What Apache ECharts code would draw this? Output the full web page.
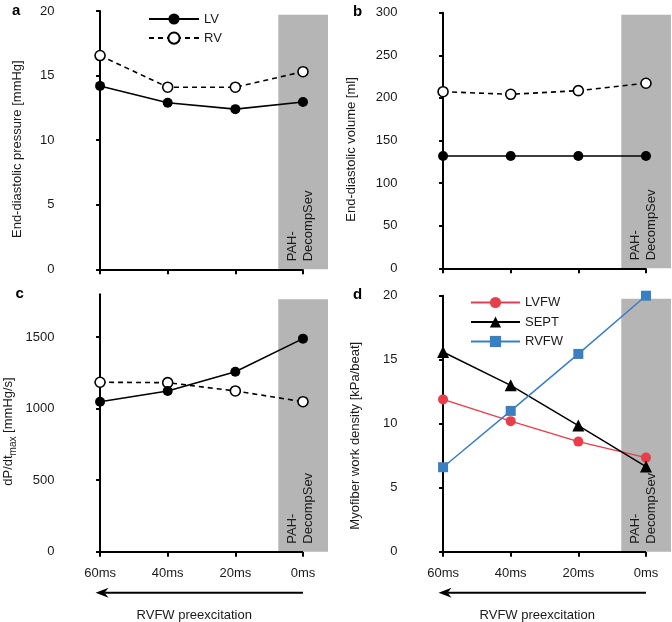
<!DOCTYPE html>
<html>
<head>
<meta charset="utf-8">
<script src="https://cdn.jsdelivr.net/npm/echarts@6/dist/echarts.min.js"></script>
<style>html,body{margin:0;padding:0;background:#fff}#c{width:672px;height:622px}</style>
</head>
<body>
<div id="c"></div>
<script>
// ---- data ----
const categories = ['60ms', '40ms', '20ms', '0ms'];
const catPos = [0, 1, 2, 3];
const edpLV = [14.2, 12.9, 12.4, 12.95];
const edpRV = [16.55, 14.1, 14.1, 15.3];
const edvLV = [131.8, 131.8, 131.8, 131.8];
const edvRV = [207.3, 204.2, 208.5, 217.2];
const dpdtLV = [1049, 1124, 1259, 1490];
const dpdtRV = [1185, 1182, 1124, 1049];
const workLVFW = [11.9, 10.2, 8.6, 7.35];
const workSEPT = [15.6, 13.0, 9.85, 6.65];
const workRVFW = [6.6, 11.0, 15.45, 20.0];
const bandStart = 2.635;
const bandTops = [19.7, 297.5, 1765, 19.77];
const bandLabel = 'PAH-\nDecompSev';
const xAxisTitle = 'RVFW preexcitation';

const FONT = 'Liberation Sans, Arial, Helvetica, sans-serif';
const TXT = '#1a1a1a';
const RED = '#e63e4b';
const BLUE = '#3a7fc2';
const XMIN = -0.585, XMAX = 3.37;

const chart = echarts.init(document.getElementById('c'), null, {renderer: 'canvas'});

const grids = [
  {left: 60.5, top: 11, width: 267.5, height: 258.3},
  {left: 403.5, top: 12.7, width: 267.5, height: 255.6},
  {left: 60.5, top: 294.3, width: 267.5, height: 257.4},
  {left: 403.5, top: 295.7, width: 267.5, height: 256}
].map(g => Object.assign({outerBoundsMode: 'none', containLabel: false}, g));

function pairs(vals) { return vals.map((v, i) => [catPos[i], v]); }

function xAxisFor(i, bottom) {
  return {
    type: 'value', gridIndex: i, min: XMIN, max: XMAX,
    axisLine: {show: false},
    splitLine: {show: false},
    axisTick: {show: true, customValues: catPos, length: 5, lineStyle: {color: '#000', width: 2}},
    axisLabel: {show: bottom, customValues: catPos, formatter: v => categories[Math.round(v)] || '',
      margin: 15, fontSize: 13, color: TXT, fontFamily: FONT},
    name: bottom ? xAxisTitle : '',
    nameLocation: 'middle', nameGap: 57,
    nameTextStyle: {fontSize: 13, color: TXT, fontFamily: FONT}
  };
}

function yAxisFor(i, o) {
  const ax = {
    type: 'value', gridIndex: i, min: o.min, max: o.max,
    axisLine: {show: true, lineStyle: {color: '#000', width: 2}},
    axisTick: {show: true, length: 4, lineStyle: {color: '#000', width: 2}},
    axisLabel: {margin: 6, fontSize: 13, color: TXT, fontFamily: FONT, formatter: v => String(v)},
    splitLine: {show: false},
    name: o.name, nameLocation: 'middle', nameGap: o.gap,
    nameTextStyle: Object.assign({fontSize: 13, color: TXT, fontFamily: FONT, padding: [0, o.shift, 0, 0]}, o.nts || {})
  };
  if (o.interval) ax.interval = o.interval;
  if (o.ticks) { ax.axisTick.customValues = o.ticks; ax.axisLabel.customValues = o.ticks; }
  return ax;
}

function band(i) {
  return {
    silent: true,
    itemStyle: {color: '#b5b5b5'},
    label: {show: true, position: 'insideBottom', distance: 8, rotate: 90, align: 'left', verticalAlign: 'middle',
      formatter: bandLabel, fontSize: 13, lineHeight: 16, color: TXT, fontFamily: FONT, offset: [0, -3]},
    data: [[{xAxis: bandStart, yAxis: 0}, {xAxis: XMAX, yAxis: bandTops[i]}]]
  };
}
function baseLine() {
  return {
    silent: true, symbol: ['none', 'none'], label: {show: false},
    lineStyle: {color: '#000', width: 2, type: 'solid'},
    emphasis: {disabled: true},
    data: [[{coord: [0, 0]}, {coord: [3, 0]}]]
  };
}

function lvSeries(i, vals) {
  return {name: 'LV', type: 'line', xAxisIndex: i, yAxisIndex: i, data: pairs(vals),
    symbol: 'circle', symbolSize: 10, z: 4,
    itemStyle: {color: '#000'}, lineStyle: {color: '#000', width: 1.6},
    markArea: band(i), markLine: baseLine()};
}
function rvSeries(i, vals) {
  return {name: 'RV', type: 'line', xAxisIndex: i, yAxisIndex: i, data: pairs(vals),
    symbol: 'circle', symbolSize: 10, z: 3,
    itemStyle: {color: '#fff', borderColor: '#000', borderWidth: 1.6},
    lineStyle: {color: '#000', width: 1.6, type: [5, 4]}};
}

const option = {
  animation: false,
  textStyle: {fontFamily: FONT},
  grid: grids,
  title: [
    {text: 'a', left: 12, top: 3},
    {text: 'b', left: 353, top: 4},
    {text: 'c', left: 15.5, top: 286},
    {text: 'd', left: 353, top: 287}
  ].map(t => Object.assign({padding: 0, textStyle: {fontSize: 15, fontWeight: 'bold', color: '#000', fontFamily: FONT}}, t)),
  legend: [
    {data: ['LV', 'RV'], orient: 'vertical', left: 143, top: 7.5, itemWidth: 50, itemHeight: 14, itemGap: 6,
      selectedMode: false, textStyle: {fontSize: 13, color: TXT, fontFamily: FONT}},
    {data: ['LVFW', 'SEPT', 'RVFW'], orient: 'vertical', left: 465, top: 291, itemWidth: 49, itemHeight: 14, itemGap: 6.5,
      selectedMode: false, textStyle: {fontSize: 13, color: TXT, fontFamily: FONT}}
  ],
  xAxis: [xAxisFor(0, false), xAxisFor(1, false), xAxisFor(2, true), xAxisFor(3, true)],
  yAxis: [
    yAxisFor(0, {min: 0, max: 20, interval: 5, name: 'End-diastolic pressure [mmHg]', gap: 37, shift: 18}),
    yAxisFor(1, {min: 0, max: 300, interval: 50, name: 'End-diastolic volume [ml]', gap: 46, shift: 18}),
    yAxisFor(2, {min: 0, max: 1800, ticks: [0, 500, 1000, 1500], name: 'dP/dt{sub|max} [mmHg/s]', gap: 42, shift: 17,
      nts: {lineHeight: 20, rich: {sub: {fontSize: 10, lineHeight: 10, verticalAlign: 'bottom', color: TXT, fontFamily: FONT}}}}),
    yAxisFor(3, {min: 0, max: 20, interval: 5, name: 'Myofiber work density [kPa/beat]', gap: 42, shift: 24})
  ],
  series: [
    lvSeries(0, edpLV), rvSeries(0, edpRV),
    lvSeries(1, edvLV), rvSeries(1, edvRV),
    lvSeries(2, dpdtLV), rvSeries(2, dpdtRV),
    {name: 'LVFW', type: 'line', xAxisIndex: 3, yAxisIndex: 3, data: pairs(workLVFW),
      symbol: 'circle', symbolSize: 10, itemStyle: {color: RED}, lineStyle: {color: RED, width: 1.5},
      markArea: band(3), markLine: baseLine()},
    {name: 'SEPT', type: 'line', xAxisIndex: 3, yAxisIndex: 3, data: pairs(workSEPT),
      symbol: 'triangle', symbolSize: 12, itemStyle: {color: '#000'}, lineStyle: {color: '#000', width: 1.5}},
    {name: 'RVFW', type: 'line', xAxisIndex: 3, yAxisIndex: 3, data: pairs(workRVFW),
      symbol: 'rect', symbolSize: 10, itemStyle: {color: BLUE}, lineStyle: {color: BLUE, width: 1.5}}
  ]
};
chart.setOption(option);

// arrows under the bottom axes, placed via the axes' own scales
const graphics = [];
[2, 3].forEach(g => {
  const p0 = chart.convertToPixel({gridIndex: g}, [0, 0]);
  const p3 = chart.convertToPixel({gridIndex: g}, [3, 0]);
  const y = p0[1] + 41;
  const tx = p0[0] - 4.5;
  graphics.push({type: 'line', shape: {x1: tx + 9, y1: y, x2: p3[0], y2: y}, style: {stroke: '#000', lineWidth: 2}});
  graphics.push({type: 'polygon', shape: {points: [[tx, y], [tx + 13, y - 5], [tx + 9, y], [tx + 13, y + 5]]}, style: {fill: '#000'}});
});
chart.setOption({graphic: graphics});
</script>
</body>
</html>
